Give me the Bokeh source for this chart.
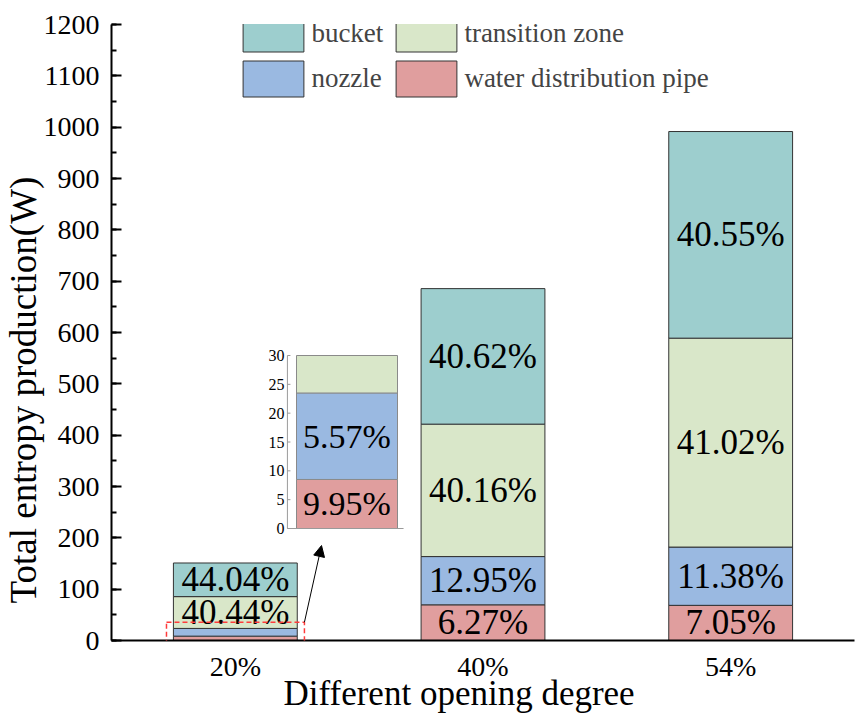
from bokeh.plotting import figure
from bokeh.models import (Range1d, Legend, LegendItem, Arrow, NormalHead, Title,
                          SingleIntervalTicker, BoxAnnotation, FixedTicker)
from bokeh.core.properties import value
from bokeh.embed import file_html
from bokeh.resources import INLINE

# ---------------- data ----------------
cats = ["20%", "40%", "54%"]
pipe = [8.5, 69.5, 68.5]
nozzle = [15.0, 94.0, 113.5]
transition = [62.0, 258.0, 407.0]
bucket = [65.5, 264.0, 402.5]

pipe_lbl = ["9.95%", "6.27%", "7.05%"]
nozzle_lbl = ["5.57%", "12.95%", "11.38%"]
transition_lbl = ["40.44%", "40.16%", "41.02%"]
bucket_lbl = ["44.04%", "40.62%", "40.55%"]

names = ["water distribution pipe", "nozzle", "transition zone", "bucket"]
colors = ["#E09E9E", "#9AB9E1", "#D9E7C9", "#9DCECE"]
inset_ticks = [0, 5, 10, 15, 20, 25, 30]
inset_max = 30
y_title = "Total entropy production(W)"
x_title = "Different opening degree"

FONT = value("Liberation Serif")
xs = list(range(1, len(cats) + 1))

# ---------------- layout constants (canvas px) ----------------
W, H = 860, 720
FL, FT, FR, FB = 111, 24, 854, 640
X0, X1, Y0, Y1 = 0.5, len(cats) + 0.5, 0, 1200

p = figure(width=W, height=H, x_range=Range1d(X0, X1),
           y_range=Range1d(Y0, Y1), output_backend="svg", toolbar_location=None,
           min_border_left=FL, min_border_right=W - FR, min_border_top=FT,
           min_border_bottom=H - FB)
p.outline_line_color = None
p.grid.visible = False
p.background_fill_color = "white"

layers = [pipe, nozzle, transition, bucket]
labels = [pipe_lbl, nozzle_lbl, transition_lbl, bucket_lbl]
bottom = [0.0] * len(cats)
rends = []
for vals, lbls, nm, col in zip(layers, labels, names, colors):
    top = [b + v for b, v in zip(bottom, vals)]
    r = p.vbar(x=xs, bottom=bottom, top=top, width=0.5, fill_color=col,
               line_color="#333333", line_width=1)
    rends.append(r)
    mids = [(b + t) / 2 for b, t in zip(bottom, top)]
    shown = [l if v > 30 else "" for l, v in zip(lbls, vals)]
    p.text(x=xs, y=mids, text=shown, text_align="center", text_baseline="middle",
           text_font=FONT, text_font_size="35px", text_color="black")
    bottom = top

# ---------------- inset (zoom of the first bar 0..30) ----------------
ins_left, ins_w = 296, 101          # px of inset bar
ins_zero, ins_top_px = 528, 355     # px of inset 0 and 30
sx = ins_w
sy = (ins_zero - ins_top_px) / inset_max
p.extra_x_ranges = {"ix": Range1d((FL - ins_left) / sx, (FR - ins_left) / sx)}
ys = -(FB - ins_zero) / sy
p.extra_y_ranges = {"iy": Range1d(ys, ys + (FB - FT) / sy)}

ib = 0.0
for vals, lbls, col in zip(layers[:3], labels[:3], colors[:3]):
    lo = ib
    hi = min(ib + vals[0], inset_max)
    p.quad(left=[0], right=[1], bottom=[lo], top=[hi], fill_color=col,
           line_color="#8a8a8a", line_width=1, x_range_name="ix", y_range_name="iy")
    if hi - lo > 7:
        p.text(x=[0.5], y=[(lo + hi) / 2], text=[lbls[0]], text_align="center",
               text_baseline="middle", text_font=FONT, text_font_size="34px",
               x_range_name="ix", y_range_name="iy")
    ib = ib + vals[0]

ax_x = -0.09
p.segment(x0=[ax_x], y0=[0], x1=[ax_x], y1=[inset_max], line_color="#9a9a9a",
          line_width=1, x_range_name="ix", y_range_name="iy")
p.segment(x0=[ax_x], y0=[0], x1=[1.06], y1=[0], line_color="#9a9a9a",
          line_width=1, x_range_name="ix", y_range_name="iy")
p.segment(x0=[ax_x] * len(inset_ticks), y0=inset_ticks,
          x1=[ax_x + 0.03] * len(inset_ticks), y1=inset_ticks,
          line_color="#9a9a9a", line_width=1, x_range_name="ix", y_range_name="iy")
p.text(x=[ax_x - 0.03] * len(inset_ticks), y=inset_ticks,
       text=[str(t) for t in inset_ticks], text_align="right", text_baseline="middle",
       text_font=FONT, text_font_size="16px", x_range_name="ix", y_range_name="iy")

# dashed highlight box + arrow
c0 = xs[0]
p.add_layout(BoxAnnotation(left=c0 - 0.278, right=c0 + 0.279, bottom=-6, top=35.6,
                           fill_alpha=0, line_color="#ff3b3b", line_alpha=1,
                           line_dash="5 3", line_width=1.5))
p.add_layout(Arrow(x_start=c0 + 0.279, y_start=35.6, x_end=c0 + 0.348, y_end=185,
                   line_color="black", line_width=1,
                   end=NormalHead(size=11, fill_color="black", line_color="black")))

# ---------------- axes ----------------
ya = p.yaxis[0]
ya.ticker = SingleIntervalTicker(interval=100, num_minor_ticks=2)
ya.major_tick_in = 10
ya.major_tick_out = 0
ya.minor_tick_in = 5
ya.minor_tick_out = 0
xa = p.xaxis[0]
xa.ticker = FixedTicker(ticks=xs)
xa.major_label_overrides = {x: c for x, c in zip(xs, cats)}
for ax in (xa, ya):
    ax.axis_line_width = 2
    ax.axis_line_color = "black"
    ax.major_tick_line_width = 2
    ax.minor_tick_line_width = 2
    ax.major_tick_line_color = "black"
    ax.minor_tick_line_color = "black"
    ax.major_label_text_font = "Liberation Serif"
    ax.major_label_text_font_size = "28px"
    ax.major_label_text_color = "black"
ya.major_label_standoff = 12

xa.major_tick_line_color = None
xa.minor_tick_line_color = None
xa.major_tick_in = 0
xa.major_tick_out = 0
xa.major_label_standoff = 10

# axis titles, placed off-centre as in the reference
p.add_layout(Title(text=y_title, align="left", offset=37, vertical_align="middle",
                   standoff=-9, text_font="Liberation Serif", text_font_size="37px",
                   text_font_style="normal", text_color="black"), "left")
p.add_layout(Title(text=x_title, align="left", offset=172, vertical_align="middle",
                   standoff=-24, text_font="Liberation Serif", text_font_size="35px",
                   text_font_style="normal", text_color="black"), "below")

# ---------------- legend ----------------
by = dict(zip(names, rends))
order = ["bucket", "nozzle", "transition zone", "water distribution pipe"]
gw, gh, sp = 76, 45, -4           # swatch is drawn at 80% of the glyph box
leg_h = 2 * gh + sp
leg = Legend(items=[LegendItem(label=n, renderers=[by[n]]) for n in order],
             location=(243 - 7.6 - FL, FB - 14.5 - leg_h), ncols=2,
             glyph_width=gw, glyph_height=gh, label_standoff=0, spacing=sp,
             label_width=77, label_height=gh,
             padding=0, margin=0, border_line_color=None, background_fill_alpha=0,
             label_text_font="Liberation Serif", label_text_font_size="27px")
p.add_layout(leg)

open("out.html", "w").write(file_html(p, INLINE))
